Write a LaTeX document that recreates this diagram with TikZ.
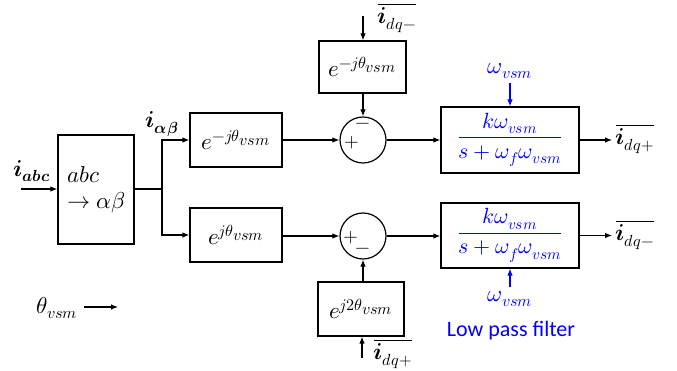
\documentclass[tikz,border=0pt]{standalone}
\usepackage{fontspec}
\usepackage{amsmath}
\usepackage{unicode-math}
\setmathfont{Latin Modern Math}
\newfontfamily\calib{Carlito}
\usetikzlibrary{arrows.meta}
\newcommand{\vsm}{{\scriptstyle vsm}}
\newcommand{\lpfrac}{\genfrac{}{}{1.4pt}{0}{k\omega_{vsm}}{s+\omega_f\omega_{vsm}}}
\begin{document}
\begin{tikzpicture}[x=1pt,y=-1pt,
  every node/.style={font=\fontsize{23}{26}\selectfont},
  blk/.style={draw, line width=1.2pt, rectangle, inner sep=0pt},
  sumc/.style={draw, line width=1.2pt, circle, minimum size=46pt, inner sep=0pt},
  arr/.style={-{Latex[length=7pt,width=5.5pt]}, line width=1.1pt},
  ln/.style={line width=1.1pt},
  sgn/.style={font=\fontsize{19}{20}\selectfont, inner sep=0pt},
  bl/.style={text=blue}]
\useasboundingbox (0,0) rectangle (677,371);
% blocks
\node[blk, minimum width=76pt, minimum height=109pt, align=left] (abc) at (96,189.5) {$abc$\\[0pt]$\rightarrow \alpha\beta$};
\node[blk, minimum width=92pt, minimum height=54pt] (e1) at (236,140) {$e^{-j\theta_\vsm}$};
\node[blk, minimum width=92pt, minimum height=54pt] (e2) at (236,235) {$e^{j\theta_\vsm}$};
\node[blk, minimum width=87pt, minimum height=52pt] (e3) at (362.5,67) {$e^{-j\theta_\vsm}$};
\node[blk, minimum width=86pt, minimum height=54pt] (e4) at (361,309) {$e^{j2\theta_\vsm}$};
\node[sumc] (s1) at (363,140) {};
\node[sumc] (s2) at (363,236) {};
\node[blk, minimum width=138pt, minimum height=66pt, text=blue, font=\fontsize{22}{24}\selectfont] (f1) at (510,140) {$\lpfrac$};
\node[blk, minimum width=138pt, minimum height=65pt, text=blue, font=\fontsize{22}{24}\selectfont] (f2) at (510,235.5) {$\lpfrac$};
% signs
\node[sgn] (p1) at (352,143) {$+$};
\node[sgn] (m1) at (363,126) {$\symbf{-}$};
\node[sgn] (p2) at (351,238) {$+$};
\node[sgn] (m2) at (363,251) {$\symbf{-}$};
% labels
\node (iabc) at (32,171) {$\symbfit{i}_{\symbfit{abc}}$};
\node (iab) at (162,124) {$\symbfit{i}_{\symbfit{\alpha\beta}}$};
\node (in1) at (397,18) {$\overline{\symbfit{i}_{dq\symbf{-}}}$};
\node (in2) at (393,354) {$\overline{\symbfit{i}_{dq+}}$};
\node (o1) at (635,139) {$\overline{\symbfit{i}_{dq+}}$};
\node (o2) at (635,235) {$\overline{\symbfit{i}_{dq\symbf{-}}}$};
\node[bl] (w1) at (510,71) {$\omega_{vsm}$};
\node[bl] (w2) at (510,299) {$\omega_{vsm}$};
\node[bl, font=\fontsize{22}{24}\selectfont] (lpf) at (511,331) {\calib Low pass filter};
\node (th) at (57,308) {$\theta_{vsm}$};
% coordinates
\coordinate (a0) at (21,189);
\coordinate (j) at (162,189);
\coordinate (t1) at (363,16);
\coordinate (t2) at (362,358);
\coordinate (thend) at (118,307);
% connectors
\draw[arr] (a0) -- (abc.west |- a0);
\draw[ln] (abc.east |- j) -- (j);
\draw[arr] (j) |- (e1.west);
\draw[arr] (j) |- (e2.west);
\draw[arr] (e1.east) -- (s1.west);
\draw[arr] (e2.east |- s2) -- (s2.west);
\draw[arr] (t1) -- (t1 |- e3.north);
\draw[arr] (e3.south -| s1) -- (s1.north);
\draw[arr] (t2) -- (t2 |- e4.south);
\draw[arr] (e4.north -| s2) -- (s2.south);
\draw[arr] (s1.east) -- (f1.west |- s1);
\draw[arr] (s2.east) -- (f2.west |- s2);
\draw[arr] (f1.east) -- (f1.east -| o1.west);
\draw[arr] (f2.east) -- (f2.east -| o2.west);
\draw[arr, blue] (w1.south) -- (f1.north);
\draw[arr, blue] (w2.north) -- (f2.south);
\draw[arr] (th.east |- thend) ++(3,0) -- (thend);
\end{tikzpicture}
\end{document}
